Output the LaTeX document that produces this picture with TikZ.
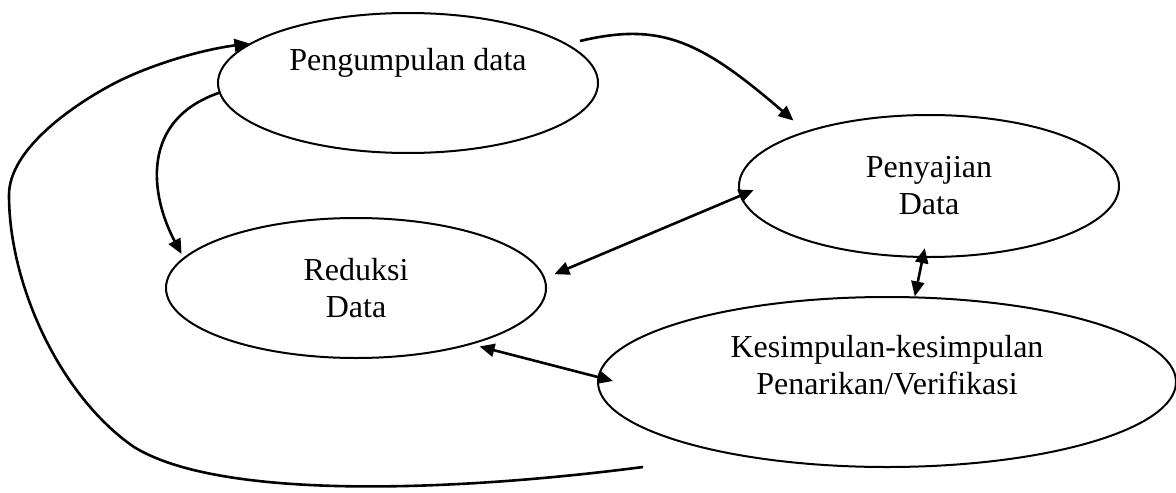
\documentclass[tikz,border=0pt]{standalone}
\usepackage{fontspec}
\setmainfont{Liberation Serif}
\usepackage{tikz}
\usetikzlibrary{positioning}
\usetikzlibrary{calc}
\usetikzlibrary{shapes.geometric}
\usetikzlibrary{arrows.meta}

\tikzset{
  ellip/.style={draw, ellipse, line width=1pt, inner sep=0pt, align=center,
    font=\fontsize{16}{18.5}\selectfont, minimum width=190pt, minimum height=70pt},
  flow/.style={line width=1.3pt, -{Triangle[length=7.5pt,width=6.5pt]}},
  twoway/.style={line width=1.3pt, {Triangle[length=7.5pt,width=6.5pt]}-{Triangle[length=7.5pt,width=6.5pt]}},
}

\begin{document}
\begin{tikzpicture}[x=0.5pt, y=-0.5pt]
\useasboundingbox (0,0) rectangle (1176,492);
\coordinate (cpd) at (408,83);
\coordinate[below right=51.5pt and 260.5pt of cpd] (cpy);
\coordinate[below left=102.5pt and 26pt of cpd] (crd);
\coordinate[below left=98pt and 21pt of cpy] (cks);
%%%%%%%%%%%%%%
\coordinate[above right=21pt and 86pt of cpd] (pdout);
\coordinate[below left=42.5pt and 122pt of cks] (loopst);
%%%%%%%%%%%%%%
\node[ellip, text depth=23.5pt] (pd) at (cpd) {Pengumpulan data};
\node[ellip, minimum height=71pt] (py) at (cpy) {Penyajian\\Data};
\node[ellip] (rd) at (crd) {Reduksi\\Data};
\node[ellip, minimum width=289pt, minimum height=85pt, text depth=17pt] (ks) at (cks) {Kesimpulan-kesimpulan\\Penarikan/Verifikasi};
%%%%%%%%%%%%%%%%%%%%%%%%%%%%%%%%%%%%%%%%%%

\draw[flow, shorten >=8pt] (pdout) .. controls (660,22) and (700,40) .. (py.156);
\draw[flow, shorten >=2pt] (pd.183) .. controls (140,120) and (150,195) .. (rd.170);
\draw[twoway, shorten <=5pt, shorten >=-7.5pt] (rd.3) -- (py.183);
\draw[twoway, shorten <=-5pt] (py.265) -- (ks.72);
\draw[twoway, shorten <=4pt, shorten >=-8pt] (rd.334) -- (ks.179);
%%%%%%%%%%
\draw[flow] (loopst) .. controls (450,492) and (220,500) .. (134,447)
  .. controls (60,396) and (9,285) .. (9,195)
  .. controls (9,150) and (71,106) .. (115,83)
  .. controls (150,65) and (200,50) .. (pd.166);
\end{tikzpicture}
\end{document}
